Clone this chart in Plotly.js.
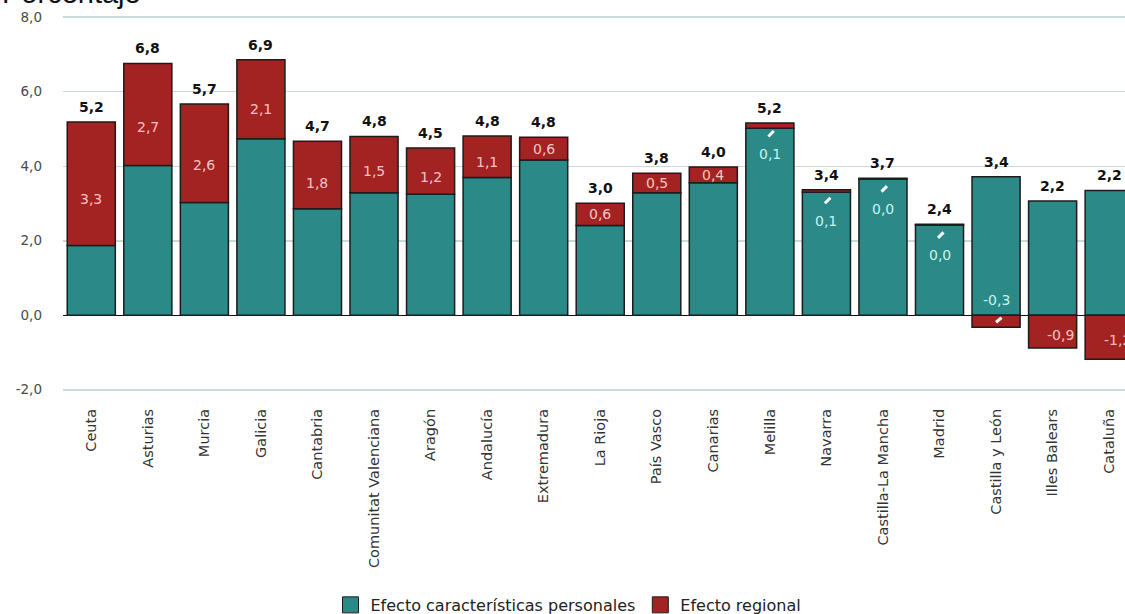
<!DOCTYPE html>
<html>
<head>
<meta charset="utf-8">
<script src="https://cdn.plot.ly/plotly-3.0.1.min.js"></script>
<style>
html,body{margin:0;padding:0;background:#ffffff;}
#chart{width:1125px;height:614px;}
</style>
</head>
<body>
<div id="chart"></div>
<script>
// ---- data ----
const regions = ["Ceuta","Asturias","Murcia","Galicia","Cantabria","Comunitat Valenciana","Aragón","Andalucía","Extremadura","La Rioja","País Vasco","Canarias","Melilla","Navarra","Castilla-La Mancha","Madrid","Castilla y León","Illes Balears","Cataluña"];
const personal = [1.87, 4.02, 3.03, 4.74, 2.86, 3.29, 3.25, 3.70, 4.17, 2.41, 3.29, 3.56, 5.02, 3.30, 3.65, 2.42, 3.72, 3.07, 3.35];
const regional = [3.32, 2.74, 2.64, 2.12, 1.81, 1.51, 1.24, 1.11, 0.61, 0.60, 0.52, 0.42, 0.14, 0.07, 0.03, 0.02, -0.32, -0.88, -1.18];
const yTickVals = [-2, 0, 2, 4, 6, 8];
const yTickText = ["-2,0", "0,0", "2,0", "4,0", "6,0", "8,0"];
const seriesNames = ["Efecto características personales", "Efecto regional"];
const axisTitle = "Porcentaje";

// ---- style ----
const TEAL = "#2b8988";
const RED = "#a32222";
const EDGE = "#1c1c1c";
const FONT = "DejaVu Sans";
const fmt = v => v.toFixed(1).replace(".", ",");

const barCommon = {
  type: "bar", x: regions, width: 0.85, showlegend: false, hoverinfo: "skip",
};
const traces = [
  Object.assign({}, barCommon, {y: personal, name: seriesNames[0], marker: {color: TEAL, line: {color: EDGE, width: 1.5}}}),
  Object.assign({}, barCommon, {y: regional, name: seriesNames[1], marker: {color: RED, line: {color: EDGE, width: 1.5}}}),
  // legend proxies
  {type: "scatter", mode: "markers", x: [null], y: [null], name: seriesNames[0], showlegend: true,
   marker: {symbol: "square", size: 16, color: TEAL, line: {color: EDGE, width: 1}}},
  {type: "scatter", mode: "markers", x: [null], y: [null], name: seriesNames[1], showlegend: true,
   marker: {symbol: "square", size: 16, color: RED, line: {color: EDGE, width: 1}}}
];

const annotations = [];
regions.forEach((r, i) => {
  const p = personal[i], g = regional[i];
  const total = p + g;
  const top = Math.max(p, total);
  // total label
  annotations.push({x: r, y: top, xref: "x", yref: "y", text: "<b>" + fmt(total) + "</b>",
    showarrow: false, yanchor: "bottom", yshift: 5, font: {family: FONT, size: 14, color: "#111"}});
  // regional label
  if (g >= 0.3) {
    const yy = g >= 1 ? p + g * 0.38 : p + g / 2;
    annotations.push({x: r, y: yy, xref: "x", yref: "y", text: fmt(g), showarrow: false,
      yanchor: "middle", font: {family: FONT, size: 14, color: "#f6c4c4"}});
  } else if (g >= 0) {
    annotations.push({x: r, y: top, xref: "x", yref: "y", text: fmt(g), showarrow: false,
      yanchor: "middle", yshift: -31, font: {family: FONT, size: 14, color: "#c8f3ee"}});
    annotations.push({x: r, y: top, xref: "x", yref: "y", text: "", showarrow: true,
      arrowhead: 0, arrowwidth: 3, arrowcolor: "#ffffff", ax: -7, ay: 7, xshift: 4, yshift: -8});
  } else if (g > -0.5) {
    annotations.push({x: r, y: 0, xref: "x", yref: "y", text: fmt(g), showarrow: false,
      yanchor: "middle", yshift: 15, font: {family: FONT, size: 14, color: "#c8f3ee"}});
    annotations.push({x: r, y: 0, xref: "x", yref: "y", text: "", showarrow: true,
      arrowhead: 0, arrowwidth: 3, arrowcolor: "#ffffff", ax: 7, ay: -6, xshift: 0, yshift: -7});
  } else {
    annotations.push({x: r, y: g / 2, xref: "x", yref: "y", text: fmt(g), showarrow: false,
      yanchor: "middle", xshift: 8, yshift: -3, font: {family: FONT, size: 14, color: "#f6c4c4"}});
  }
});

// axis title
annotations.push({xref: "paper", yref: "paper", x: -0.0593, y: 1.0, xanchor: "left", yanchor: "bottom",
  yshift: 4, text: axisTitle, showarrow: false, font: {family: "Liberation Sans", size: 29, color: "#111"}});

const layout = {
  width: 1125, height: 614,
  margin: {l: 63, r: 0, t: 15, b: 222, pad: 0, autoexpand: false},
  paper_bgcolor: "#ffffff", plot_bgcolor: "#ffffff",
  barmode: "relative", bargap: 0.15,
  font: {family: FONT, color: "#333"},
  separators: ",.",
  xaxis: {
    type: "category", range: [-0.5, 18.28], tickangle: -90, showgrid: false, ticks: "",
    showline: false, zeroline: false, ticklabelstandoff: 13, automargin: false,
    tickfont: {family: FONT, size: 14.5, color: "#333"}
  },
  yaxis: {
    range: [-2.06, 8.06], tickvals: yTickVals, ticktext: yTickText, showgrid: true,
    gridcolor: "#c8dbd8", gridwidth: 1.5, zeroline: true, zerolinecolor: "#111", zerolinewidth: 1.5,
    showline: false, ticks: "", ticklabelstandoff: 20, automargin: false,
    tickfont: {family: FONT, size: 13.5, color: "#4a4a4a"}
  },
  legend: {
    orientation: "h", x: 0.476, xanchor: "center", yref: "container", y: 0.0147, yanchor: "middle",
    font: {family: FONT, size: 16, color: "#222"}, itemwidth: 30, bgcolor: "rgba(0,0,0,0)"
  },
  annotations: annotations,
  showlegend: true
};

Plotly.newPlot("chart", traces, layout, {displayModeBar: false, staticPlot: true});
</script>
</body>
</html>
